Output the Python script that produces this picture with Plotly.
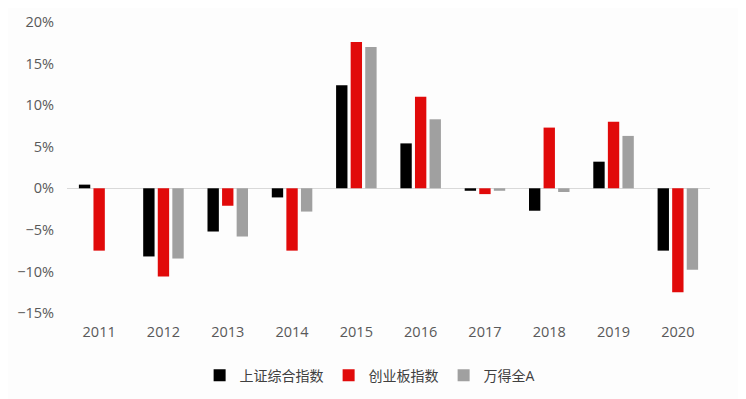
import plotly.graph_objects as go

years = ["2011", "2012", "2013", "2014", "2015", "2016", "2017", "2018", "2019", "2020"]
shanghai = [0.44, -8.2, -5.2, -1.1, 12.4, 5.4, -0.3, -2.7, 3.2, -7.5]
chinext = [-7.5, -10.6, -2.1, -7.5, 17.6, 11.0, -0.7, 7.3, 8.0, -12.5]
wind_a = [0.0, -8.45, -5.8, -2.8, 17.0, 8.3, -0.3, -0.45, 6.3, -9.8]

names = ["上证综合指数", "创业板指数", "万得全A"]
colors = ["#000000", "#E10A0A", "#A0A0A0"]
series = [shanghai, chinext, wind_a]

fig = go.Figure()
for name, vals, col in zip(names, series, colors):
    fig.add_trace(go.Bar(
        x=years, y=[v / 100 for v in vals], name=name,
        marker=dict(color=col, line=dict(width=0)),
    ))

font_family = "Open Sans, Noto Sans CJK SC, sans-serif"
# page body has an 8px offset, so the figure is sized to the visible area
fig.update_layout(
    width=738, height=391,
    margin=dict(l=59, r=36, t=14, b=86),
    paper_bgcolor="#FDFDFD", plot_bgcolor="#FDFDFD",
    barmode="group", bargap=0.32, bargroupgap=0.22,
    font=dict(family=font_family, color="#595959", size=14),
    showlegend=True,
    legend=dict(orientation="h", x=0.49, xanchor="center", xref="container",
                y=0.06, yanchor="middle", yref="container",
                font=dict(size=14, color="#404040"), itemwidth=30,
                traceorder="normal", itemclick=False, tracegroupgap=0),
    xaxis=dict(showgrid=False, showline=False, zeroline=False, automargin=False,
               ticks="outside", ticklen=6, tickcolor="rgba(0,0,0,0)",
               tickfont=dict(size=14.5, color="#595959")),
    yaxis=dict(range=[-0.15, 0.20], dtick=0.05, tickformat=".0%", automargin=False,
               showgrid=False, zeroline=True, zerolinecolor="#D9D9D9", zerolinewidth=1.3,
               showline=False, ticks="outside", ticklen=9, tickcolor="rgba(0,0,0,0)",
               tickfont=dict(size=14.5, color="#595959")),
)

fig.write_html("out.html")
